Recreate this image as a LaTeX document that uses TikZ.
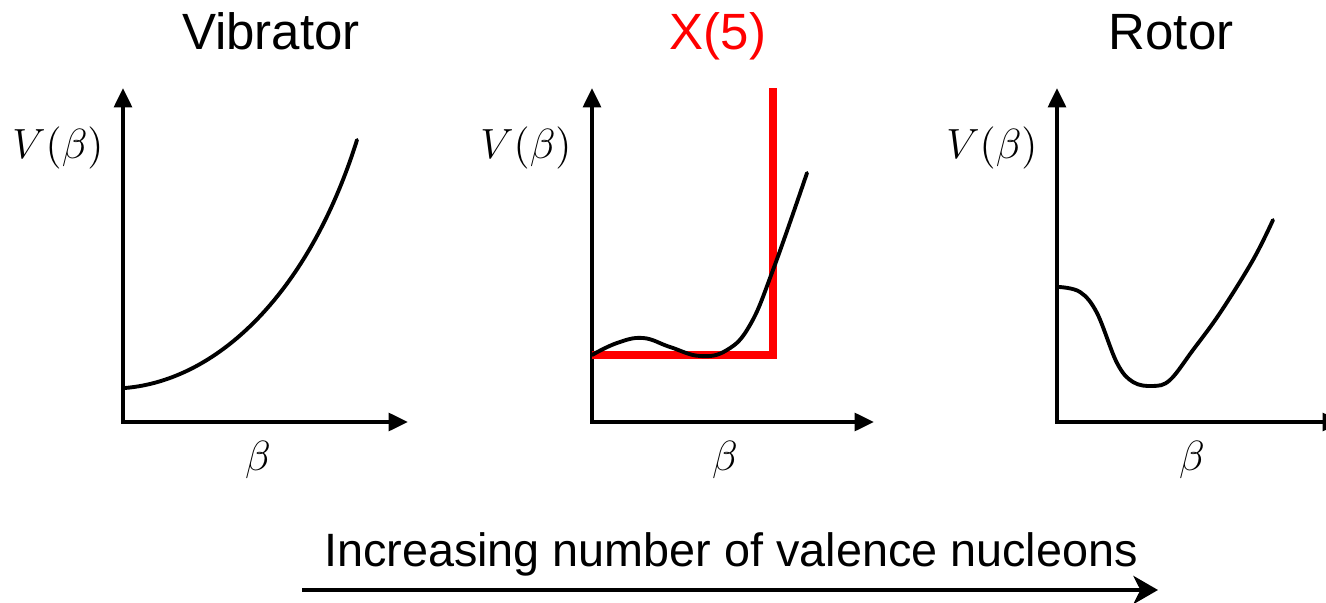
\documentclass[tikz,border=0pt]{standalone}
\usepackage{fontspec}
\setmainfont{Liberation Sans}
\usepackage{tikz}
\usetikzlibrary{arrows.meta,positioning}

\begin{document}
\begin{tikzpicture}[
    x=0.01cm, y=-0.01cm,
    axis/.style={line width=1.15pt, {Triangle[length=5.5pt,width=5pt]}-{Triangle[length=5.5pt,width=5pt]}},
    curve/.style={line width=1.1pt, line cap=round},
    well/.style={red, line width=2.3pt, line join=miter},
    title/.style={font=\fontsize{14.5}{17}\selectfont, anchor=base},
    lab/.style={font=\fontsize{13}{15}\selectfont},
    arr/.style={line width=1.15pt, -{Stealth[length=7pt,width=8pt,inset=2pt]}},
]
\useasboundingbox (0,0) rectangle (1326,603);
% Vibrator
\coordinate (o1) at (123,422);
\coordinate (y1) at (123,88);
\coordinate (x1) at (408,422);
\draw[axis] (y1) -- (o1) -- (x1);
\node[title] (t1) at (271,50) {Vibrator};
\node[lab] (v1) at (58,148) {$V(\beta)$};
\node[lab] (b1) at (258,460) {$\beta$};
\draw[curve] (125,388) .. controls (220,380) and (310,290) .. (357,140);
% X(5)
\coordinate (o2) at (592,422);
\coordinate (y2) at (592,88);
\coordinate (x2) at (874,422);
\coordinate (w1) at (773,88);
\coordinate (w2) at (773,355);
\coordinate (w3) at (592,355);
\draw[axis] (y2) -- (o2) -- (x2);
\draw[well] (w1) -- (w2) -- (w3);
\node[title, red] (t2) at (718,50) {X(5)};
\node[lab] (v2) at (526,148) {$V(\beta)$};
\node[lab] (b2) at (725,460) {$\beta$};
\draw[curve] plot[smooth, tension=0.7] coordinates
    {(592,355) (617,343) (643,338) (670,347) (700,356) (727,350) (750,325) (773,270) (807,173)};
% Rotor
\coordinate (o3) at (1057,422);
\coordinate (y3) at (1057,88);
\coordinate (x3) at (1342,422);
\draw[axis] (y3) -- (o3) -- (x3);
\node[title] (t3) at (1171,50) {Rotor};
\node[lab] (v3) at (992,148) {$V(\beta)$};
\node[lab] (b3) at (1192,460) {$\beta$};
\draw[curve] plot[smooth, tension=0.6] coordinates
    {(1059,287) (1080,292) (1097,313) (1117,363) (1133,382) (1153,386) (1170,380) (1193,350) (1220,313) (1253,260) (1273,220)};
% Bottom arrow
\coordinate (a1) at (302,590);
\coordinate (a2) at (1158,590);
\draw[arr] (a1) -- (a2);
\node[font=\fontsize{13.3}{16}\selectfont, anchor=base] (inc) at (731,566) {Increasing number of valence nucleons};
\end{tikzpicture}
\end{document}
